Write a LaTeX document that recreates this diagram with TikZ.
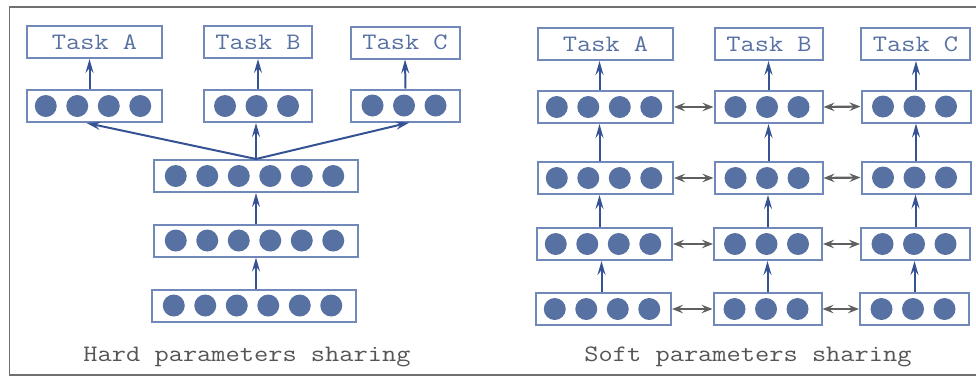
\documentclass[tikz,border=0pt]{standalone}
\usepackage{fontspec}
\setmonofont{Latin Modern Mono}[FakeStretch=1.17]
\usepackage{tikz}
\usetikzlibrary{arrows.meta,calc}
\definecolor{unitblue}{RGB}{88,113,163}
\definecolor{boxblue}{RGB}{112,136,186}
\definecolor{arrowblue}{RGB}{52,82,148}
\definecolor{linkgray}{RGB}{95,95,95}
\definecolor{labelgray}{RGB}{85,85,85}
\definecolor{framegray}{RGB}{112,112,112}
\newcommand{\bemono}{\fontsize{23.6pt}{26pt}\selectfont\ttfamily}
\newcommand{\units}[2]{\foreach \k in {1,...,#2}{\fill[unitblue] ($(#1.center)+({(\k-(#2+1)/2)*31.5-1.5},0)$) circle (11pt);}}
\tikzset{
  taskbox/.style={draw=boxblue, line width=2pt, minimum height=32pt, inner sep=0pt, text=unitblue, font=\bemono},
  layerbox/.style={draw=boxblue, line width=2pt, minimum height=32pt, inner sep=0pt},
  up/.style={draw=arrowblue, line width=2pt, -{Stealth[length=14pt,width=8pt,inset=5pt]}},
  link/.style={draw=linkgray, line width=2.2pt, {Stealth[length=11pt,width=8.5pt,inset=4pt]}-{Stealth[length=11pt,width=8.5pt,inset=4pt]}},
}

\begin{document}
\begin{tikzpicture}[x=1pt,y=-1pt]
\useasboundingbox (0,0) rectangle (976,376);
% Frame
\draw[framegray, line width=1.5pt] (976,7) -- (9.5,7) -- (9.5,375) -- (976,375);

% Hard sharing: tasks
\node[taskbox, minimum width=135pt] (taskA) at (94.5,42) {Task A};
\node[taskbox, minimum width=108pt] (taskB) at (258,42) {Task B};
\node[taskbox, minimum width=109pt] (taskC) at (405,42.5) {Task C};

% Hard sharing: task-specific layers
\node[layerbox, minimum width=135pt] (headA) at (94.5,106) {};
\node[layerbox, minimum width=108pt] (headB) at (258,106) {};
\node[layerbox, minimum width=109pt] (headC) at (405.5,105.5) {};
\units{headA}{4} \units{headB}{3} \units{headC}{3}

% Hard sharing: shared layers
\node[layerbox, minimum width=204pt] (shareC) at (256,176) {};
\node[layerbox, minimum width=204pt] (shareB) at (256,240.5) {};
\node[layerbox, minimum width=204pt] (shareA) at (254,305.5) {};
\units{shareC}{6} \units{shareB}{6} \units{shareA}{6}

\draw[up] (shareA.north -| shareB.north) -- (shareB.south);
\draw[up] (shareB.north) -- (shareC.south);
\draw[up] (shareC.north) -- ([xshift=-8pt]headA.south);
\draw[up] (shareC.north) -- (shareC.north |- headB.south);
\draw[up] (shareC.north) -- ([xshift=4pt]headC.south);
\draw[up] ([xshift=-5pt]headA.north) -- ([xshift=-5pt]taskA.south);
\draw[up] (headB.north) -- (taskB.south);
\draw[up] (headC.north) -- (taskC.south);

\node[font=\bemono, text=labelgray, anchor=base] (hardlabel) at (247,361) {Hard parameters sharing};

% Soft sharing: tasks
\node[taskbox, minimum width=135pt] (softA) at (605.5,44) {Task A};
\node[taskbox, minimum width=108pt] (softB) at (769,44) {Task B};
\node[taskbox, minimum width=109pt] (softC) at (915.5,44) {Task C};

% Soft sharing: top layer
\node[layerbox, minimum width=135pt] (sA1) at (605.5,107) {};
\node[layerbox, minimum width=108pt] (sB1) at (768.5,107) {};
\node[layerbox, minimum width=109pt] (sC1) at (916,106.5) {};

% Soft sharing: second layer
\node[layerbox, minimum width=135pt] (sA2) at (605.5,178) {};
\node[layerbox, minimum width=108pt] (sB2) at (768.5,178) {};
\node[layerbox, minimum width=109pt] (sC2) at (916,177.5) {};

% Soft sharing: third layer
\node[layerbox, minimum width=135pt] (sA3) at (604.5,244) {};
\node[layerbox, minimum width=108pt] (sB3) at (768,244) {};
\node[layerbox, minimum width=109pt] (sC3) at (915.5,244) {};

% Soft sharing: bottom layer
\node[layerbox, minimum width=135pt] (sA4) at (603.5,309) {};
\node[layerbox, minimum width=108pt] (sB4) at (767.5,309) {};
\node[layerbox, minimum width=109pt] (sC4) at (914.5,309) {};

\units{sA1}{4} \units{sB1}{3} \units{sC1}{3}
\units{sA2}{4} \units{sB2}{3} \units{sC2}{3}
\units{sA3}{4} \units{sB3}{3} \units{sC3}{3}
\units{sA4}{4} \units{sB4}{3} \units{sC4}{3}

% Soft sharing: columns
\draw[up] ([xshift=-2pt]sA4.north) -- ([xshift=-2pt]sA4.north |- sA3.south);
\draw[up] ([xshift=-5pt]sA3.north) -- ([xshift=-5pt]sA3.north |- sA2.south);
\draw[up] ([xshift=-6pt]sA2.north) -- ([xshift=-6pt]sA2.north |- sA1.south);
\draw[up] ([xshift=-6pt]sA1.north) -- ([xshift=-6pt]sA1.north |- softA.south);
\draw[up] (sB4.north) -- (sB4.north |- sB3.south);
\draw[up] (sB3.north) -- (sB3.north |- sB2.south);
\draw[up] (sB2.north) -- (sB2.north |- sB1.south);
\draw[up] (sB1.north) -- (sB1.north |- softB.south);
\draw[up] (sC4.north) -- (sC4.north |- sC3.south);
\draw[up] (sC3.north) -- (sC3.north |- sC2.south);
\draw[up] (sC2.north) -- (sC2.north |- sC1.south);
\draw[up] (sC1.north) -- (sC1.north |- softC.south);

% Soft sharing: constraints between columns
\draw[link] (sA1.east) -- (sB1.west);
\draw[link] (sB1.east) -- (sC1.west);
\draw[link] (sA2.east) -- (sB2.west);
\draw[link] (sB2.east) -- (sC2.west);
\draw[link] (sA3.east) -- (sB3.west);
\draw[link] (sB3.east) -- (sC3.west);
\draw[link] (sA4.east) -- (sB4.west);
\draw[link] (sB4.east) -- (sC4.west);

\node[font=\bemono, text=labelgray, anchor=base] (softlabel) at (748,361) {Soft parameters sharing};
\end{tikzpicture}
\end{document}
